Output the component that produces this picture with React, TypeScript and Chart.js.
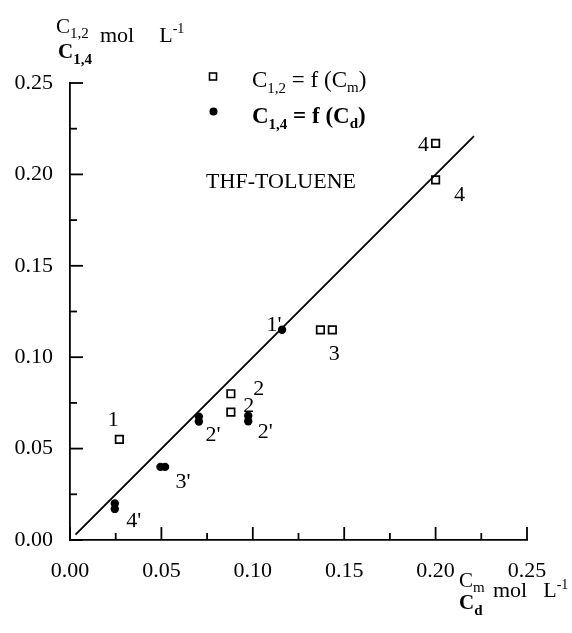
import React, { useEffect, useRef } from "react";
import { Chart, registerables } from "chart.js";

Chart.register(...registerables);

// ---- data ----
const squareX = [0.027, 0.088, 0.088, 0.137, 0.1435, 0.2, 0.2];
const squareY = [0.055, 0.08, 0.07, 0.115, 0.115, 0.217, 0.197];
const circleX = [0.116, 0.0705, 0.0705, 0.0975, 0.0975, 0.0495, 0.052, 0.0245, 0.0245];
const circleY = [0.115, 0.0675, 0.0648, 0.068, 0.065, 0.04, 0.04, 0.02, 0.017];
const lineX = [0.003, 0.221];
const lineY = [0.003, 0.221];
const tickValues = [0, 0.05, 0.1, 0.15, 0.2, 0.25];
const minorTickValues = [0.025, 0.075, 0.125, 0.175, 0.225];
const squareLabels = ["1", "2", "2", "", "3", "4", "4"];
const circleLabels = ["1'", "2'", "", "2'", "", "", "3'", "", "4'"];

const SERIF = "'Liberation Serif', 'Times New Roman', serif";

type Part = { t: string; size: number; bold?: boolean; dy?: number; gap?: number };

function drawRich(ctx: CanvasRenderingContext2D, x: number, y: number, parts: Part[]) {
  let cx = x;
  ctx.textAlign = "left";
  ctx.textBaseline = "alphabetic";
  for (const p of parts) {
    cx += p.gap || 0;
    ctx.font = `${p.bold ? "bold " : ""}${p.size}px ${SERIF}`;
    ctx.fillText(p.t, cx, y + (p.dy || 0));
    cx += ctx.measureText(p.t).width;
  }
}

const labelOffsets: Record<string, [number, number][]> = {
  sq: [[-6, -19], [28, -5], [18, -6], [0, 0], [2, 24], [-12, 2], [24, 15]],
  ci: [[-8, -5], [14, 19], [0, 0], [17, 17], [0, 0], [0, 0], [18, 15], [0, 0], [19, 12]],
};

const decorPlugin = {
  id: "decor",
  afterDraw(chart: any) {
    const ctx: CanvasRenderingContext2D = chart.ctx;
    const xs = chart.scales.x;
    const ys = chart.scales.y;
    const x0 = xs.getPixelForValue(0);
    const y0 = ys.getPixelForValue(0);
    ctx.save();
    ctx.strokeStyle = "#000";
    ctx.fillStyle = "#000";
    ctx.lineWidth = 1.8;
    // inward ticks
    for (const v of tickValues) {
      const px = xs.getPixelForValue(v);
      ctx.beginPath();
      ctx.moveTo(px, y0);
      ctx.lineTo(px, y0 - 13);
      ctx.stroke();
      const py = ys.getPixelForValue(v);
      ctx.beginPath();
      ctx.moveTo(x0, py);
      ctx.lineTo(x0 + 13, py);
      ctx.stroke();
    }
    for (const v of minorTickValues) {
      const px = xs.getPixelForValue(v);
      ctx.beginPath();
      ctx.moveTo(px, y0);
      ctx.lineTo(px, y0 - 7);
      ctx.stroke();
      const py = ys.getPixelForValue(v);
      ctx.beginPath();
      ctx.moveTo(x0, py);
      ctx.lineTo(x0 + 7, py);
      ctx.stroke();
    }

    // point labels
    ctx.font = `22px ${SERIF}`;
    ctx.textAlign = "center";
    ctx.textBaseline = "middle";
    const sqMeta = chart.getDatasetMeta(1);
    squareLabels.forEach((t, i) => {
      if (!t) return;
      const el = sqMeta.data[i];
      const [dx, dy] = labelOffsets.sq[i];
      ctx.fillText(t, el.x + dx, el.y + dy);
    });
    const ciMeta = chart.getDatasetMeta(2);
    circleLabels.forEach((t, i) => {
      if (!t) return;
      const el = ciMeta.data[i];
      const [dx, dy] = labelOffsets.ci[i];
      ctx.fillText(t, el.x + dx, el.y + dy);
    });

    // THF-TOLUENE
    ctx.font = `22px ${SERIF}`;
    ctx.textAlign = "right";
    ctx.textBaseline = "alphabetic";
    ctx.fillText("THF-TOLUENE", 356, 188);

    // legend
    ctx.lineWidth = 1.6;
    ctx.fillStyle = "#fff";
    ctx.fillRect(209.5, 73, 7, 7);
    ctx.strokeRect(209.5, 73, 7, 7);
    ctx.fillStyle = "#000";
    ctx.beginPath();
    ctx.arc(213.5, 111.5, 4, 0, Math.PI * 2);
    ctx.fill();
    drawRich(ctx, 252, 87, [
      { t: "C", size: 23 },
      { t: "1,2", size: 15, dy: 6 },
      { t: " = f (C", size: 23 },
      { t: "m", size: 15, dy: 5 },
      { t: ")", size: 23 },
    ]);
    drawRich(ctx, 252, 123, [
      { t: "C", size: 23, bold: true },
      { t: "1,4", size: 15, bold: true, dy: 6 },
      { t: " = f (C", size: 23, bold: true },
      { t: "d", size: 15, bold: true, dy: 5 },
      { t: ")", size: 23, bold: true },
    ]);

    // y axis title
    drawRich(ctx, 56, 33, [
      { t: "C", size: 21 },
      { t: "1,2", size: 15, dy: 5 },
    ]);
    drawRich(ctx, 58, 58, [
      { t: "C", size: 21, bold: true },
      { t: "1,4", size: 15, bold: true, dy: 6 },
    ]);
    drawRich(ctx, 100, 42, [
      { t: "mol", size: 22 },
      { t: "L", size: 22, gap: 25 },
      { t: "-1", size: 14, dy: -9 },
    ]);

    // x axis title
    drawRich(ctx, 459, 587, [
      { t: "C", size: 21 },
      { t: "m", size: 15, dy: 5 },
    ]);
    drawRich(ctx, 493, 597, [
      { t: "mol", size: 22 },
      { t: "L", size: 22, gap: 16 },
      { t: "-1", size: 14, dy: -8 },
    ]);
    drawRich(ctx, 459, 609, [
      { t: "C", size: 21, bold: true },
      { t: "d", size: 15, bold: true, dy: 6 },
    ]);
    ctx.restore();
  },
};

export default function App() {
  const ref = useRef<HTMLCanvasElement>(null);
  useEffect(() => {
    if (!ref.current) return;
    const chart = new Chart(ref.current, {
      type: "scatter",
      data: {
        datasets: [
          {
            type: "line",
            data: lineX.map((x, i) => ({ x, y: lineY[i] })),
            borderColor: "#000",
            borderWidth: 1.8,
            pointRadius: 0,
            fill: false,
          } as any,
          {
            data: squareX.map((x, i) => ({ x, y: squareY[i] })),
            pointStyle: "rect",
            pointRadius: 5.3,
            borderWidth: 1.7,
            borderColor: "#000",
            backgroundColor: "#fff",
          },
          {
            data: circleX.map((x, i) => ({ x, y: circleY[i] })),
            pointStyle: "circle",
            pointRadius: 4.2,
            borderWidth: 0,
            backgroundColor: "#000",
          },
        ],
      },
      options: {
        responsive: false,
        animation: false,
        layout: { padding: { left: 0, top: 83, right: 45, bottom: 0 } },
        plugins: { legend: { display: false }, tooltip: { enabled: false } },
        scales: {
          x: {
            type: "linear",
            min: 0,
            max: 0.25,
            afterFit: (s: any) => {
              s.height = 93;
            },
            afterBuildTicks: (s: any) => {
              s.ticks = tickValues.map((v) => ({ value: v }));
            },
            grid: { display: false, drawTicks: false },
            border: { display: true, color: "#000", width: 1.8 },
            ticks: {
              padding: 18,
              color: "#000",
              font: { family: SERIF, size: 22 },
              callback: (v: any) => Number(v).toFixed(2),
              maxRotation: 0,
            },
          },
          y: {
            type: "linear",
            min: 0,
            max: 0.25,
            afterFit: (s: any) => {
              s.width = 70;
            },
            afterBuildTicks: (s: any) => {
              s.ticks = tickValues.map((v) => ({ value: v }));
            },
            grid: { display: false, drawTicks: false },
            border: { display: true, color: "#000", width: 1.8 },
            ticks: {
              padding: 17,
              color: "#000",
              font: { family: SERIF, size: 22 },
              callback: (v: any) => Number(v).toFixed(2),
            },
          },
        },
      },
      plugins: [decorPlugin],
    });
    return () => chart.destroy();
  }, []);
  return (
    <div style={{ position: "absolute", left: 0, top: 0, width: 572, height: 633, background: "#fff" }}>
      <canvas ref={ref} width={572} height={633} style={{ display: "block" }} />
    </div>
  );
}
